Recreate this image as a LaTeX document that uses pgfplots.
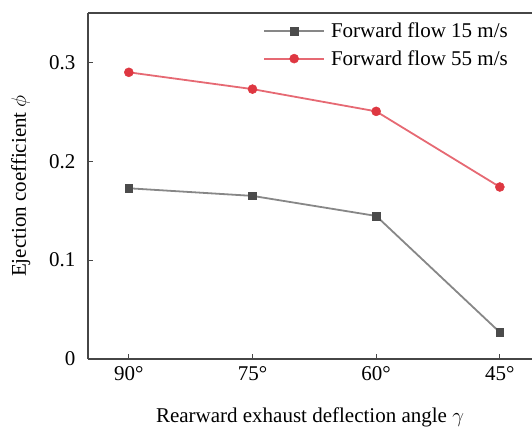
\documentclass[border=0pt]{standalone}
\usepackage{fontspec}
\setmainfont{Liberation Serif}
\usepackage{pgfplots}
\pgfplotsset{compat=1.18}
\definecolor{linegray}{RGB}{135,135,135}
\definecolor{markgray}{RGB}{75,75,75}
\definecolor{linered}{RGB}{230,105,115}
\definecolor{markred}{RGB}{222,55,65}
\definecolor{axgray}{RGB}{70,70,70}
\begin{document}
\begin{tikzpicture}
\useasboundingbox (-88pt,-67pt) rectangle (444pt,359pt);
\begin{axis}[
  scale only axis,
  width=444pt, height=346pt,
  xmin=-0.33, xmax=3.26,
  ymin=0, ymax=0.35,
  axis lines=left,
  axis line style={-, draw=axgray, line width=1.2pt},
  tick style={draw=axgray, line width=0.9pt},
  tick align=inside,
  major tick length=5pt,
  xtick={0,1,2,3},
  xticklabels={90°,75°,60°,45°},
  ytick={0,0.1,0.2,0.3},
  yticklabels={0,0.1,0.2,0.3},
  /pgf/number format/assume math mode=true,
  font=\fontsize{21}{25}\selectfont,
  tick label style={font=\fontsize{21}{25}\selectfont},
  xticklabel style={yshift=-4pt},
  yticklabel style={xshift=-9pt},
  xlabel={Rearward exhaust deflection angle $\gamma$},
  ylabel={Ejection coefficient $\phi$},
  xlabel style={at={(axis description cs:0.5,0)}, anchor=north, yshift=-45pt},
  ylabel style={at={(axis description cs:0,0.5)}, anchor=south, yshift=54pt},
  legend style={draw=none, fill=none, at={(1,1)}, anchor=north east,
    xshift=-19pt, yshift=-6pt, font=\fontsize{21}{25}\selectfont,
    row sep=7pt,
    /tikz/every odd column/.append style={column sep=4pt}},
  legend cell align=left,
  legend image code/.code={%
    \draw[mark repeat=2,mark phase=2,#1] plot coordinates {(0pt,0pt) (30pt,0pt) (60pt,0pt)};},
  clip=false,
]
\draw[draw=axgray, line width=1.2pt] (rel axis cs:0,1) -- (rel axis cs:1,1);
\addplot[color=linegray, line width=1.8pt, mark=square*, mark size=3.8pt,
  mark options={fill=markgray, draw=markgray, line width=0.5pt}]
  coordinates {(0,0.1727) (1,0.1650) (2,0.1447) (3,0.0270)};
\addlegendentry{Forward flow 15 m/s}
\addplot[color=linered, line width=1.8pt, mark=*, mark size=4.5pt,
  mark options={fill=markred, draw=markred, line width=0.5pt}]
  coordinates {(0,0.2900) (1,0.2730) (2,0.2505) (3,0.1740)};
\addlegendentry{Forward flow 55 m/s}
\end{axis}
\end{tikzpicture}
\end{document}
